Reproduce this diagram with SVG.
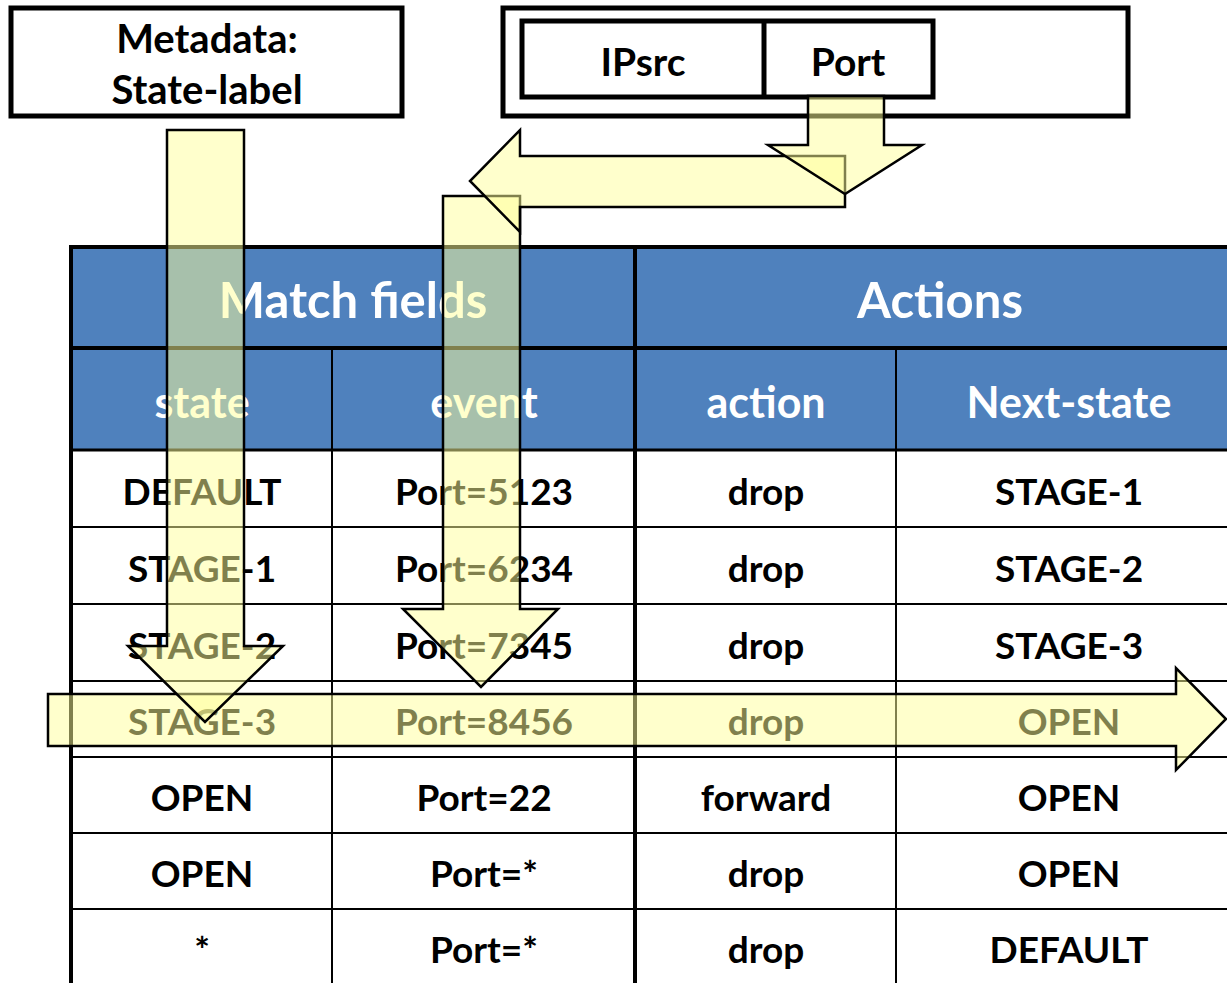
<svg xmlns="http://www.w3.org/2000/svg" width="1227" height="983" viewBox="0 0 1227 983">
<style>
text{font-family:Lato,"Liberation Sans",sans-serif;font-weight:bold;text-anchor:middle}
.b{font-size:37px;fill:#000}
.m{font-size:40px;fill:#000}
.p{font-size:39px;fill:#000}
.h1{font-size:49px;fill:#fff}
.h2{font-size:43px;fill:#fff}
.box{fill:#fff;stroke:#000;stroke-width:5}
.thick{stroke:#000;stroke-width:4;fill:none}
.thin{stroke:#000;stroke-width:2;fill:none}
.arrow{fill:#FFFF99;fill-opacity:0.5;stroke:#000;stroke-width:2.5;stroke-linejoin:miter}
</style>
<rect width="1227" height="983" fill="#fff"/>
<g id="metadata">
<rect class="box" x="11" y="8" width="391" height="108"/>
<text class="m" x="207" y="53">Metadata:</text>
<text class="m" x="207" y="104">State-label</text>
</g>
<g id="packet">
<rect class="box" x="503" y="8" width="625" height="108"/>
<rect class="box" x="522" y="21" width="411" height="76"/>
<line x1="764" y1="21" x2="764" y2="97" stroke="#000" stroke-width="5"/>
<text class="p" x="643" y="76">IPsrc</text>
<text class="p" x="848" y="76">Port</text>
</g>
<g id="table">
<rect x="71" y="247" width="1160" height="101" fill="#4F81BD"/>
<rect x="71" y="348" width="1160" height="102" fill="#4F81BD"/>
<line class="thick" x1="69" y1="247" x2="1227" y2="247"/>
<line class="thick" x1="69" y1="348" x2="1227" y2="348"/>
<line class="thick" x1="71" y1="245" x2="71" y2="983"/>
<line class="thick" x1="635" y1="245" x2="635" y2="983"/>
<line class="thin" x1="332" y1="348" x2="332" y2="983"/>
<line class="thin" x1="896" y1="348" x2="896" y2="983"/>
<line class="thick" x1="71" y1="450" x2="1227" y2="450" style="stroke-width:3"/>
<line class="thin" x1="71" y1="527" x2="1227" y2="527"/>
<line class="thin" x1="71" y1="604" x2="1227" y2="604"/>
<line class="thin" x1="71" y1="681" x2="1227" y2="681"/>
<line class="thin" x1="71" y1="757" x2="1227" y2="757"/>
<line class="thin" x1="71" y1="833" x2="1227" y2="833"/>
<line class="thin" x1="71" y1="909" x2="1227" y2="909"/>
<text class="h1" x="353" y="318">Match fields</text>
<text class="h1" x="940" y="318">Actions</text>
<text class="h2" x="202" y="418">state</text>
<text class="h2" x="484" y="418">event</text>
<text class="h2" x="766" y="418">action</text>
<text class="h2" x="1069" y="418">Next-state</text>
<g class="b">
<text x="202" y="505">DEFAULT</text><text x="484" y="505">Port=5123</text><text x="766" y="505">drop</text><text x="1069" y="505">STAGE-1</text>
<text x="202" y="582">STAGE-1</text><text x="484" y="582">Port=6234</text><text x="766" y="582">drop</text><text x="1069" y="582">STAGE-2</text>
<text x="202" y="659">STAGE-2</text><text x="484" y="659">Port=7345</text><text x="766" y="659">drop</text><text x="1069" y="659">STAGE-3</text>
<text x="202" y="735">STAGE-3</text><text x="484" y="735">Port=8456</text><text x="766" y="735">drop</text><text x="1069" y="735">OPEN</text>
<text x="202" y="811">OPEN</text><text x="484" y="811">Port=22</text><text x="766" y="811">forward</text><text x="1069" y="811">OPEN</text>
<text x="202" y="887">OPEN</text><text x="484" y="887">Port=*</text><text x="766" y="887">drop</text><text x="1069" y="887">OPEN</text>
<text x="202" y="963">*</text><text x="484" y="963">Port=*</text><text x="766" y="963">drop</text><text x="1069" y="963">DEFAULT</text>
</g>
</g>
<g id="connectors">
<path class="arrow" d="M48,694 H1176 V668 L1226,719 L1176,770 V746 H48 Z"/>
<path class="arrow" d="M167,130 H244 V646 H283 L205,722 L128,646 H167 Z"/>
<path class="arrow" d="M443,196 H520 V609 H558 L481,687 L403,609 H443 Z"/>
<path class="arrow" d="M845,156 H520 V130 L470,181 L520,232 V207 H845 Z"/>
<path class="arrow" d="M808,96 H884 V145 H922 L845,194 L768,145 H808 Z"/>
</g>
</svg>
